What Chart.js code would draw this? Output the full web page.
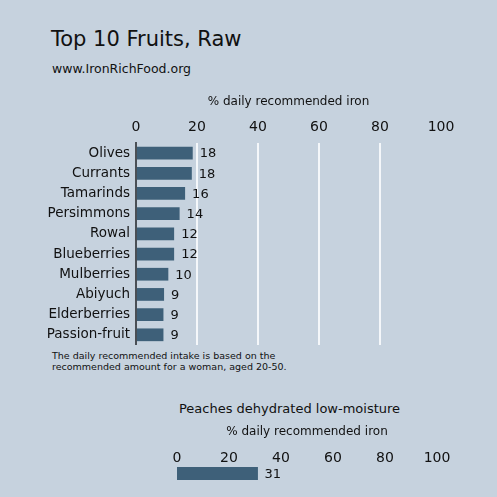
<!DOCTYPE html>
<html>
<head>
<meta charset="utf-8">
<script src="https://cdn.jsdelivr.net/npm/chart.js@4"></script>
<style>
  html, body { margin: 0; padding: 0; }
  body {
    width: 497px;
    height: 497px;
    background: #c6d2de;
    position: relative;
    overflow: hidden;
    font-family: "DejaVu Sans", sans-serif;
    color: #111;
  }
  .txt { position: absolute; white-space: nowrap; }
  #title { left: 51px; top: 27px; font-size: 21px; }
  #source { left: 52px; top: 61px; font-size: 12.5px; }
  #note { left: 52px; top: 350px; font-size: 9.5px; line-height: 11px; }
  #peachTitle { left: 0; width: 579px; text-align: center; top: 401px; font-size: 13px; }
  #mainWrap { position: absolute; left: 0; top: 85px; width: 497px; height: 274px; }
  #peachWrap { position: absolute; left: 0; top: 422px; width: 497px; height: 58px; }
</style>
</head>
<body>
<div id="title" class="txt">Top 10 Fruits, Raw</div>
<div id="source" class="txt">www.IronRichFood.org</div>
<div id="note" class="txt">The daily recommended intake is based on the<br>recommended amount for a woman, aged 20-50.</div>
<div id="peachTitle" class="txt">Peaches dehydrated low-moisture</div>
<div id="mainWrap"><canvas id="mainChart"></canvas></div>
<div id="peachWrap"><canvas id="peachChart"></canvas></div>
<script>
const fruits = ["Olives", "Currants", "Tamarinds", "Persimmons", "Rowal", "Blueberries", "Mulberries", "Abiyuch", "Elderberries", "Passion-fruit"];
const ironValues = [18.6, 18.3, 16.1, 14.3, 12.5, 12.5, 10.6, 9.2, 9.0, 9.0];
const peachLabel = ["Peaches dehydrated low-moisture"];
const peachValues = [31.0];
const xTicks = [0, 20, 40, 60, 80, 100];
const axisTitle = "% daily recommended iron";

const barColor = "#3e6079";
const textColor = "#111111";
const fontFamily = "'DejaVu Sans', sans-serif";

// draws the truncated value to the right of each bar
const valueLabels = {
  id: "valueLabels",
  afterDatasetsDraw(chart) {
    const ctx = chart.ctx;
    const meta = chart.getDatasetMeta(0);
    const data = chart.data.datasets[0].data;
    ctx.save();
    ctx.font = "13px " + fontFamily;
    ctx.fillStyle = textColor;
    ctx.textBaseline = "middle";
    ctx.textAlign = "left";
    meta.data.forEach((bar, i) => {
      ctx.fillText(String(Math.floor(data[i])), bar.x + 7, bar.y + 1);
    });
    ctx.restore();
  }
};

function xScale(opts) {
  return {
    type: "linear",
    position: "top",
    min: 0,
    max: 100,
    afterBuildTicks(axis) {
      axis.ticks = xTicks.map((v) => ({ value: v }));
    },
    afterFit(axis) { axis.height = opts.height; },
    ticks: {
      color: textColor,
      font: { family: fontFamily, size: 14 },
      padding: opts.tickPad,
      maxRotation: 0
    },
    title: {
      display: true,
      text: axisTitle,
      color: textColor,
      font: { family: fontFamily, size: 12 },
      padding: { top: opts.titlePad, bottom: 0 }
    },
    border: { display: false },
    grid: {
      display: opts.grid,
      drawTicks: false,
      lineWidth: 2,
      color(c) {
        if (c.tick.value === 0 || c.tick.value === 100) return "rgba(0,0,0,0)";
        return "#f4f7fa";
      }
    }
  };
}

Chart.defaults.font.family = fontFamily;
Chart.defaults.color = textColor;

new Chart(document.getElementById("mainChart"), {
  type: "bar",
  data: {
    labels: fruits,
    datasets: [{
      data: ironValues,
      backgroundColor: barColor,
      borderWidth: 0,
      categoryPercentage: 1,
      barPercentage: 0.63
    }]
  },
  options: {
    indexAxis: "y",
    responsive: true,
    maintainAspectRatio: false,
    animation: false,
    layout: { autoPadding: false, padding: { left: 0, right: 56, top: 0, bottom: 0 } },
    plugins: { legend: { display: false }, tooltip: { enabled: false } },
    scales: {
      x: xScale({ height: 58, tickPad: 7, titlePad: 10, grid: true }),
      y: {
        afterFit(axis) { axis.width = 136; },
        ticks: {
          color: textColor,
          font: { family: fontFamily, size: 13.5 },
          padding: 6,
          autoSkip: false
        },
        grid: { display: false, drawTicks: false },
        border: { display: true, color: "#4a4f55", width: 2 }
      }
    }
  },
  plugins: [valueLabels]
});

new Chart(document.getElementById("peachChart"), {
  type: "bar",
  data: {
    labels: peachLabel,
    datasets: [{
      data: peachValues,
      backgroundColor: barColor,
      borderWidth: 0,
      categoryPercentage: 1,
      barPercentage: 1
    }]
  },
  options: {
    indexAxis: "y",
    responsive: true,
    maintainAspectRatio: false,
    animation: false,
    layout: { autoPadding: false, padding: { left: 0, right: 60, top: 0, bottom: 0 } },
    plugins: { legend: { display: false }, tooltip: { enabled: false } },
    scales: {
      x: xScale({ height: 45, tickPad: 0, titlePad: 3, grid: false }),
      y: {
        afterFit(axis) { axis.width = 177; },
        ticks: { display: false },
        grid: { display: false, drawTicks: false },
        border: { display: false }
      }
    }
  },
  plugins: [valueLabels]
});
</script>
</body>
</html>
